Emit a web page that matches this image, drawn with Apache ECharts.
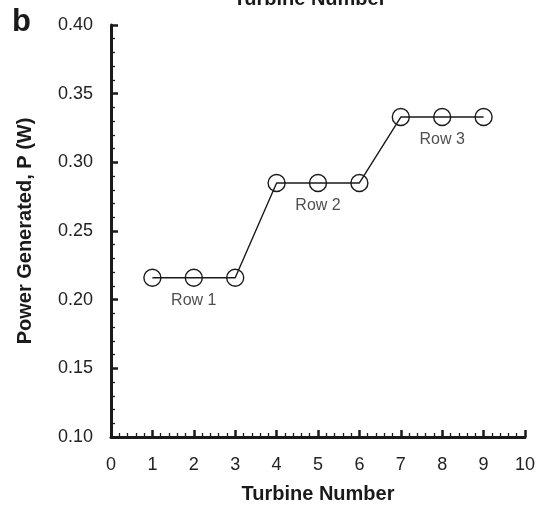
<!DOCTYPE html>
<html>
<head>
<meta charset="utf-8">
<script src="https://cdn.jsdelivr.net/npm/echarts@6/dist/echarts.min.js"></script>
<style>
html,body{margin:0;padding:0;background:#fff;}
#c{width:542px;height:505px;}
</style>
</head>
<body>
<div id="c"></div>
<script>
const turbines = [1, 2, 3, 4, 5, 6, 7, 8, 9];
const power = [0.216, 0.216, 0.216, 0.285, 0.285, 0.285, 0.333, 0.333, 0.333];
const rowLabels = [
  { text: 'Row 1', x: 2, y: 0.216 },
  { text: 'Row 2', x: 5, y: 0.285 },
  { text: 'Row 3', x: 8, y: 0.333 }
];
const xTicks = [0, 10, 1];
const yTicks = [0.10, 0.40, 0.05];

const FONT = '"Liberation Sans", Arial, sans-serif';
const chart = echarts.init(document.getElementById('c'), null, { renderer: 'canvas' });

const axisCommon = {
  type: 'value',
  axisLine: { show: true, onZero: false, lineStyle: { color: '#1a1a1a', width: 3 } },
  axisTick: { show: true, inside: true, length: 7, lineStyle: { color: '#1a1a1a', width: 2.5 } },
  minorTick: { show: true, splitNumber: 5, length: 4, lineStyle: { color: '#1a1a1a', width: 1.3 } },
  splitLine: { show: false },
  axisLabel: { color: '#222', fontSize: 18, fontFamily: FONT },
  nameTextStyle: { color: '#1a1a1a', fontSize: 20, fontWeight: 'bold', fontFamily: FONT }
};

chart.setOption({
  animation: false,
  backgroundColor: '#fff',
  grid: { left: 111, right: 17, top: 25, bottom: 68, containLabel: false, outerBoundsMode: 'none' },
  xAxis: Object.assign({}, axisCommon, {
    min: xTicks[0], max: xTicks[1], interval: xTicks[2],
    name: 'Turbine Number', nameLocation: 'middle', nameGap: 47,
    axisLabel: Object.assign({}, axisCommon.axisLabel, { margin: 19 })
  }),
  yAxis: Object.assign({}, axisCommon, {
    min: yTicks[0], max: yTicks[1], interval: yTicks[2],
    name: 'Power Generated, P (W)', nameLocation: 'middle', nameGap: 76,
    axisLabel: Object.assign({}, axisCommon.axisLabel, { margin: 18, formatter: v => v.toFixed(2) })
  }),
  graphic: [
    { type: 'text', x: 310, y: -1, style: { text: 'Turbine Number', fontSize: 20, fontWeight: 'bold', fontFamily: FONT, fill: '#1a1a1a', textAlign: 'center', textVerticalAlign: 'middle' } },
    { type: 'text', x: 12, y: 22, style: { text: 'b', fontSize: 31, fontWeight: 'bold', fontFamily: FONT, fill: '#1a1a1a', textAlign: 'left', textVerticalAlign: 'middle' } }
  ],
  series: [
    {
      type: 'line',
      data: turbines.map((t, i) => [t, power[i]]),
      symbol: 'circle',
      symbolSize: 17,
      lineStyle: { color: '#1a1a1a', width: 1.4 },
      itemStyle: { color: 'rgba(0,0,0,0)', borderColor: '#1a1a1a', borderWidth: 1.4 },
      z: 3
    },
    {
      type: 'scatter',
      data: rowLabels.map(r => ({ value: [r.x, r.y], name: r.text })),
      symbolSize: 0,
      label: {
        show: true, position: 'inside', offset: [0, 23],
        formatter: p => p.name, color: '#222', fontSize: 16, fontFamily: FONT
      },
      silent: true
    }
  ]
});
</script>
</body>
</html>
